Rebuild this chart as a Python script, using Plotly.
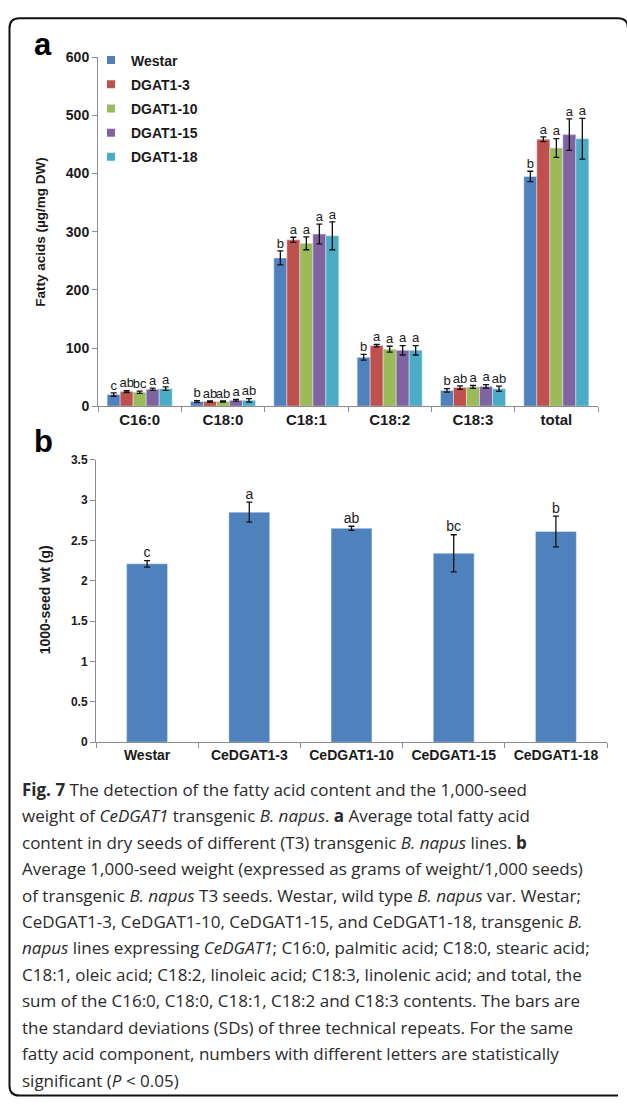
import plotly.graph_objects as go

W, H = 627, 1105

def px(x):
    return x / W

def py(y):
    return 1 - y / H

# ---------------- data: panel a ----------------
categories = ["C16:0", "C18:0", "C18:1", "C18:2", "C18:3", "total"]
series_names = ["Westar", "DGAT1-3", "DGAT1-10", "DGAT1-15", "DGAT1-18"]
westar = [20, 8, 255, 84, 27, 395]
dgat1_3 = [25, 8, 286, 104, 32, 459]
dgat1_10 = [24, 8, 280, 98, 33, 444]
dgat1_15 = [29, 10, 296, 96, 34, 467]
dgat1_18 = [30, 10, 293, 96, 30, 460]
westar_err = [3, 1.5, 12, 5, 3, 9]
dgat1_3_err = [1.5, 1, 4.5, 2, 3, 4]
dgat1_10_err = [2, 1, 11, 5, 2.5, 16]
dgat1_15_err = [2, 1.5, 17, 8, 3, 27]
dgat1_18_err = [3, 3, 24, 8, 4.5, 35]
westar_let = ["c", "b", "b", "b", "b", "b"]
dgat1_3_let = ["ab", "ab", "a", "a", "ab", "a"]
dgat1_10_let = ["bc", "ab", "a", "a", "a", "a"]
dgat1_15_let = ["a", "a", "a", "a", "a", "a"]
dgat1_18_let = ["a", "ab", "a", "a", "ab", "a"]
colors = ["#4F81BD", "#C0504D", "#9BBB59", "#8064A2", "#4BACC6"]

# ---------------- data: panel b ----------------
lines = ["Westar", "CeDGAT1-3", "CeDGAT1-10", "CeDGAT1-15", "CeDGAT1-18"]
seed_wt = [2.21, 2.85, 2.65, 2.34, 2.61]
seed_err = [0.04, 0.125, 0.025, 0.23, 0.19]
seed_let = ["c", "a", "ab", "bc", "b"]

values = [westar, dgat1_3, dgat1_10, dgat1_15, dgat1_18]
errs = [westar_err, dgat1_3_err, dgat1_10_err, dgat1_15_err, dgat1_18_err]
lets = [westar_let, dgat1_3_let, dgat1_10_let, dgat1_15_let, dgat1_18_let]

AX = "Arial, Liberation Sans, sans-serif"
TXT = "#1a1a1a"
AXC = "#8c8c8c"

fig = go.Figure()

for i, name in enumerate(series_names):
    fig.add_trace(go.Bar(
        x=categories, y=values[i], name=name, marker_color=colors[i],
        offsetgroup=str(i), showlegend=False,
        error_y=dict(type="data", array=errs[i], color="#111111", thickness=1.3, width=3),
        xaxis="x", yaxis="y",
    ))
for i, name in enumerate(series_names):
    fig.add_trace(go.Scatter(
        x=categories, y=[v + e for v, e in zip(values[i], errs[i])],
        text=lets[i], mode="text", textposition="top center",
        textfont=dict(family=AX, size=13, color=TXT),
        offsetgroup=str(i), showlegend=False, hoverinfo="skip",
        xaxis="x", yaxis="y",
    ))
# legend entries (small square markers) on a hidden axis pair
for i, name in enumerate(series_names):
    fig.add_trace(go.Scatter(
        x=[None], y=[None], mode="markers", name=f"<b>{name}</b>",
        marker=dict(symbol="square", size=8, color=colors[i]),
        legendgroup=name, xaxis="x3", yaxis="y3",
    ))

fig.add_trace(go.Bar(
    x=lines, y=seed_wt, marker_color="#4F81BD", width=0.4, showlegend=False,
    error_y=dict(type="data", array=seed_err, color="#111111", thickness=1.3, width=3),
    xaxis="x2", yaxis="y2",
))
fig.add_trace(go.Scatter(
    x=lines, y=[v + e for v, e in zip(seed_wt, seed_err)], text=seed_let,
    mode="text", textposition="top center",
    textfont=dict(family=AX, size=14, color=TXT), showlegend=False,
    hoverinfo="skip", xaxis="x2", yaxis="y2",
))

axis_common = dict(showgrid=False, zeroline=False, showline=True, linecolor=AXC,
                   linewidth=1, ticks="outside", tickcolor=AXC, ticklen=5, fixedrange=True)

caption = [
    "<b>Fig. 7</b> The detection of the fatty acid content and the 1,000-seed",
    "weight of <i>CeDGAT1</i> transgenic <i>B. napus</i>. <b>a</b> Average total fatty acid",
    "content in dry seeds of different (T3) transgenic <i>B. napus</i> lines. <b>b</b>",
    "Average 1,000-seed weight (expressed as grams of weight/1,000 seeds)",
    "of transgenic <i>B. napus</i> T3 seeds. Westar, wild type <i>B. napus</i> var. Westar;",
    "CeDGAT1-3, CeDGAT1-10, CeDGAT1-15, and CeDGAT1-18, transgenic <i>B.</i>",
    "<i>napus</i> lines expressing <i>CeDGAT1</i>; C16:0, palmitic acid; C18:0, stearic acid;",
    "C18:1, oleic acid; C18:2, linoleic acid; C18:3, linolenic acid; and total, the",
    "sum of the C16:0, C18:0, C18:1, C18:2 and C18:3 contents. The bars are",
    "the standard deviations (SDs) of three technical repeats. For the same",
    "fatty acid component, numbers with different letters are statistically",
    "significant (<i>P</i> &lt; 0.05)",
]

annotations = [
    dict(text="<b>a</b>", x=px(43), y=py(37), xref="paper", yref="paper", showarrow=False,
         font=dict(family=AX, size=31, color="#000"), xanchor="center", yanchor="middle"),
    dict(text="<b>b</b>", x=px(43), y=py(440), xref="paper", yref="paper", showarrow=False,
         font=dict(family=AX, size=31, color="#000"), xanchor="center", yanchor="middle"),
    dict(text="<b>Fatty acids (µg/mg DW)</b>", x=px(41), y=py(227), xref="paper", yref="paper",
         showarrow=False, textangle=-90, font=dict(family=AX, size=13.5, color=TXT),
         xanchor="center", yanchor="middle"),
    dict(text="<b>1000-seed wt (g)</b>", x=px(45), y=py(601), xref="paper", yref="paper",
         showarrow=False, textangle=-90, font=dict(family=AX, size=14, color=TXT),
         xanchor="center", yanchor="middle"),
]
for k, line in enumerate(caption):
    annotations.append(dict(
        text=line, x=px(20), y=py(793 + k * 26.8), xref="paper", yref="paper",
        showarrow=False, xanchor="left", yanchor="middle", align="left",
        font=dict(family="Open Sans, Noto Sans, sans-serif", size=17, color="#2a2a2a"),
    ))

r = 10
x0, x1, y0, y1 = 9.5, 628, 10.5, 1103.5
border_path = (
    f"M {x1-r},{y0} L {x0+r},{y0} Q {x0},{y0} {x0},{y0+r} "
    f"L {x0},{y1-r} Q {x0},{y1} {x0+r},{y1} L {x1-r},{y1} "
    f"M {x1-r},{y0} Q {x1},{y0} {x1},{y0+r}"
)

def conv_path(p):
    out = []
    for tok in p.split():
        if "," in tok:
            a, b = tok.split(",")
            out.append(f"{px(float(a)):.5f},{py(float(b)):.5f}")
        else:
            out.append(tok)
    return " ".join(out)

fig.update_layout(
    width=W, height=H, margin=dict(l=0, r=0, t=0, b=0),
    paper_bgcolor="white", plot_bgcolor="white",
    barmode="group", bargap=0.22, bargroupgap=0,
    scattermode="group", scattergap=0.22,
    xaxis=dict(axis_common, domain=[px(98), px(598)], anchor="y", type="category",
               tickson="boundaries",
               tickfont=dict(family=AX, size=15, color=TXT), tickprefix="<b>", ticksuffix="</b>"),
    yaxis=dict(axis_common, domain=[py(404), py(50)], anchor="x", range=[0, 600], dtick=100,
               tickfont=dict(family=AX, size=14, color=TXT), tickprefix="<b>", ticksuffix="</b>"),
    xaxis2=dict(axis_common, domain=[px(96), px(607)], anchor="y2", type="category",
                tickson="boundaries",
                tickfont=dict(family=AX, size=14, color=TXT), tickprefix="<b>", ticksuffix="</b>"),
    yaxis2=dict(axis_common, domain=[py(745), py(458.3)], anchor="x2", range=[0, 3.5], dtick=0.5,
                tickfont=dict(family=AX, size=12, color=TXT), tickprefix="<b>", ticksuffix="</b>"),
    xaxis3=dict(visible=False, domain=[0, 0.01], anchor="y3"),
    yaxis3=dict(visible=False, domain=[0, 0.01], anchor="x3"),
    legend=dict(x=px(91), y=py(37), xanchor="left", yanchor="top",
                font=dict(family=AX, size=14, color=TXT), bgcolor="rgba(0,0,0,0)",
                tracegroupgap=3, itemwidth=30),
    annotations=annotations,
    shapes=[dict(type="path", path=conv_path(border_path), xref="paper", yref="paper",
                 line=dict(color="#111111", width=2))],
    showlegend=True,
)

fig.write_html("out.html", config={"displayModeBar": False},
               post_script="document.body.style.margin='0';")
